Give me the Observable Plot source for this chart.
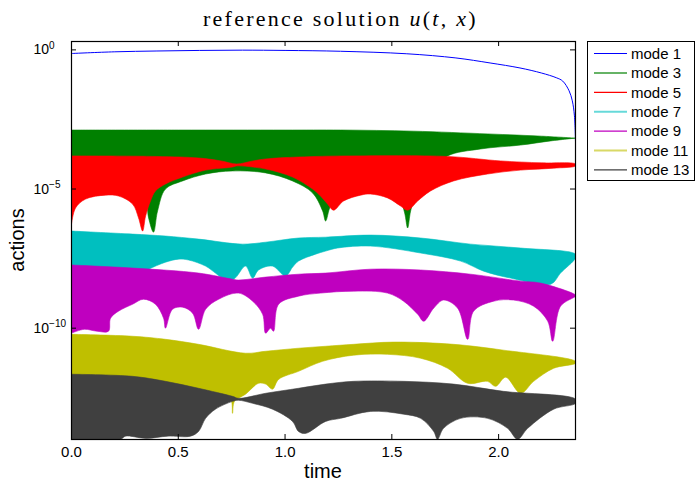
<!DOCTYPE html>
<html><head><meta charset="utf-8">
<script src="https://cdn.jsdelivr.net/npm/d3@7"></script>
<script src="https://cdn.jsdelivr.net/npm/@observablehq/plot@0.6"></script>
<style>
body{margin:0;background:#fff;}
#wrap{position:relative;width:697px;height:484px;font-family:"Liberation Sans",Arial,sans-serif;color:#000;}
#title{position:absolute;left:203px;top:6.5px;font-family:"Liberation Serif",serif;font-size:22px;line-height:24px;letter-spacing:2.25px;white-space:nowrap;}
#xlab{position:absolute;left:0;width:646px;top:461px;text-align:center;font-size:20px;line-height:20px;}
#ylab{position:absolute;left:16.6px;top:240px;transform:translate(-50%,-50%) rotate(-90deg);font-size:20px;line-height:20px;white-space:nowrap;}
#legend{position:absolute;left:587px;top:41px;width:108px;height:140px;border:1px solid #000;box-sizing:border-box;background:#fff;}
</style></head><body>
<div id="wrap">
<div id="chart"></div>
<div id="title">reference solution <i>u</i>(<i>t</i>, <i>x</i>)</div>
<div id="xlab">time</div>
<div id="ylab">actions</div>
<div id="legend"></div>
</div>
<script>
// ---------------- data (actions given as log10) -------------
const modeNames = ["mode 1","mode 3","mode 5","mode 7","mode 9","mode 11","mode 13"];
const modeColors = ["#0000ff","#008000","#ff0000","#00bfbf","#bf00bf","#bfbf00","#404040"];
const xTicks = [0, 0.5, 1, 1.5, 2];
const yTicks = [1, 1e-5, 1e-10];

// mode 1: a single smooth curve
const mode1Time  = [0, 0.2, 0.4, 0.6, 0.8, 1.0, 1.26, 1.57, 1.8, 1.96, 2.1, 2.2, 2.27, 2.3, 2.33, 2.345, 2.355, 2.36];
const mode1Log10 = [-0.13, -0.07, -0.04, -0.02, -0.01, -0.02, -0.05, -0.14, -0.29, -0.47, -0.65, -0.83, -1.0, -1.12, -1.47, -1.83, -2.37, -3.3];

// higher modes oscillate fast: upper and lower envelopes of the band
const mode3UpperTime  = [0, 0.5, 1.0, 1.26, 1.6, 1.95, 2.2, 2.36];
const mode3UpperLog10 = [-2.88, -2.88, -2.88, -2.88, -2.92, -3.02, -3.10, -3.17];
const mode3LowerTime  = [0, 0.276, 0.347, 0.361, 0.384, 0.403, 0.44, 0.52, 0.628, 0.754, 0.909, 1.035, 1.129, 1.176, 1.19, 1.213, 1.26, 1.382, 1.504, 1.541, 1.56, 1.574, 1.588, 1.611, 1.681, 1.761, 1.916, 2.103, 2.244, 2.36];
const mode3LowerLog10 = [-4.71, -4.82, -5.43, -6.04, -6.55, -5.79, -5.0, -4.71, -4.46, -4.35, -4.42, -4.71, -5.14, -5.79, -6.15, -5.61, -5.18, -4.93, -5.14, -5.43, -5.86, -6.40, -5.79, -5.25, -4.35, -3.81, -3.56, -3.42, -3.27, -3.17];

const mode5UpperTime  = [0, 0.4, 0.595, 0.70, 0.773, 0.85, 0.909, 1.063, 1.3, 1.761, 2.009, 2.2, 2.36];
const mode5UpperLog10 = [-3.81, -3.83, -3.885, -3.99, -4.10, -3.99, -3.92, -3.85, -3.81, -3.83, -3.99, -4.06, -4.10];
const mode5LowerTime  = [0, 0.019, 0.066, 0.159, 0.22, 0.286, 0.314, 0.333, 0.347, 0.37, 0.393, 0.44, 0.52, 0.628, 0.754, 0.773, 0.909, 1.035, 1.129, 1.166, 1.199, 1.227, 1.274, 1.354, 1.40, 1.48, 1.541, 1.574, 1.621, 1.681, 1.789, 1.948, 2.103, 2.258, 2.36];
const mode5LowerLog10 = [-6.26, -5.68, -5.36, -5.22, -5.25, -5.54, -6.04, -6.51, -5.97, -5.43, -5.07, -4.82, -4.57, -4.32, -4.21, -4.17, -4.28, -4.57, -5.0, -5.25, -5.54, -5.76, -5.43, -5.22, -5.18, -5.32, -5.61, -5.76, -5.43, -5.07, -4.71, -4.46, -4.32, -4.25, -4.17];

const mode7UpperTime  = [0, 0.286, 0.44, 0.595, 0.801, 0.909, 1.063, 1.19, 1.4, 1.635, 1.869, 2.103, 2.36];
const mode7UpperLog10 = [-6.51, -6.62, -6.69, -6.80, -6.98, -6.91, -6.76, -6.73, -6.655, -6.76, -6.98, -7.12, -7.34];
const mode7LowerTime  = [0, 0.323, 0.361, 0.44, 0.501, 0.548, 0.628, 0.674, 0.707, 0.759, 0.815, 0.848, 0.876, 0.941, 1.002, 1.035, 1.063, 1.143, 1.19, 1.246, 1.4, 1.635, 1.822, 1.93, 2.056, 2.244, 2.29, 2.36];
const mode7LowerLog10 = [-7.95, -8.02, -7.88, -7.63, -7.52, -7.55, -7.77, -8.02, -8.20, -8.24, -7.77, -8.20, -7.91, -7.77, -8.13, -7.81, -7.59, -7.34, -7.23, -7.12, -7.05, -7.30, -7.59, -7.95, -8.20, -8.42, -8.02, -7.48];

const mode9UpperTime  = [0, 0.286, 0.595, 0.754, 0.782, 0.909, 1.063, 1.19, 1.4, 1.635, 1.869, 2.103, 2.197, 2.36];
const mode9UpperLog10 = [-7.73, -7.84, -8.02, -8.24, -8.27, -8.165, -8.06, -8.02, -7.88, -7.91, -8.06, -8.31, -8.38, -8.81];
const mode9LowerTime  = [0, 0.06, 0.12, 0.173, 0.183, 0.22, 0.286, 0.337, 0.393, 0.431, 0.44, 0.473, 0.52, 0.567, 0.595, 0.628, 0.689, 0.782, 0.848, 0.895, 0.909, 0.932, 0.946, 0.97, 1.063, 1.166, 1.321, 1.48, 1.555, 1.621, 1.649, 1.696, 1.742, 1.808, 1.855, 1.883, 1.977, 2.07, 2.164, 2.23, 2.253, 2.29, 2.36];
const mode9LowerLog10 = [-10.18, -10.04, -10.11, -10.11, -9.64, -9.39, -9.14, -8.96, -9.14, -9.64, -10.0, -9.32, -9.245, -9.46, -10.04, -9.32, -8.96, -8.74, -9.03, -9.50, -10.18, -10.0, -10.11, -9.14, -8.85, -8.74, -8.67, -8.74, -9.03, -9.50, -9.75, -9.28, -8.99, -9.28, -10.40, -9.39, -9.03, -8.99, -9.21, -9.75, -10.47, -9.21, -8.85];

const mode11UpperTime  = [0, 0.286, 0.44, 0.595, 0.815, 0.909, 1.063, 1.19, 1.321, 1.508, 1.789, 2.023, 2.36];
const mode11UpperLog10 = [-10.22, -10.29, -10.40, -10.58, -10.90, -10.83, -10.72, -10.65, -10.58, -10.50, -10.58, -10.79, -11.19];
const mode11LowerTime  = [0, 0.4, 0.595, 0.674, 0.745, 0.754, 0.763, 0.815, 0.876, 0.909, 0.941, 0.97, 1.063, 1.176, 1.321, 1.48, 1.635, 1.761, 1.855, 1.948, 1.986, 2.033, 2.103, 2.164, 2.258, 2.36];
const mode11LowerLog10 = [-11.84, -12.01, -12.19, -12.34, -12.55, -13.06, -12.63, -12.37, -11.98, -12.01, -12.19, -11.84, -11.55, -11.19, -10.97, -10.94, -11.08, -11.44, -11.98, -11.91, -12.09, -11.76, -12.34, -11.91, -11.44, -11.26];

const mode13UpperTime  = [0, 0.286, 0.44, 0.595, 0.754, 0.782, 0.909, 1.063, 1.19, 1.321, 1.555, 1.789, 2.023, 2.36];
const mode13UpperLog10 = [-11.655, -11.73, -11.91, -12.16, -12.45, -12.52, -12.34, -12.16, -12.01, -11.91, -11.91, -12.01, -12.27, -12.55];
const mode13LowerTime  = [0, 0.23, 0.253, 0.35, 0.45, 0.557, 0.595, 0.628, 0.674, 0.754, 0.782, 0.848, 0.941, 1.035, 1.063, 1.096, 1.19, 1.26, 1.4, 1.555, 1.635, 1.696, 1.714, 1.742, 1.822, 1.948, 2.042, 2.089, 2.136, 2.258, 2.36];
const mode13LowerLog10 = [-14.07, -13.99, -13.88, -13.96, -13.88, -13.88, -13.71, -13.24, -12.91, -12.63, -12.59, -12.70, -12.91, -13.35, -13.71, -13.78, -13.35, -13.24, -12.99, -13.09, -13.24, -13.71, -13.99, -13.60, -13.24, -13.24, -13.60, -13.99, -13.60, -12.91, -12.70];

// ---------------- build tables -------------
const pts = (ts, es) => ts.map((t, i) => ({t, v: Math.pow(10, es[i])}));
const band = (tu, eu, tl, el) => pts(tu, eu).concat(pts(tl, el).reverse());
const bands = [
  band(mode3UpperTime, mode3UpperLog10, mode3LowerTime, mode3LowerLog10),
  band(mode5UpperTime, mode5UpperLog10, mode5LowerTime, mode5LowerLog10),
  band(mode7UpperTime, mode7UpperLog10, mode7LowerTime, mode7LowerLog10),
  band(mode9UpperTime, mode9UpperLog10, mode9LowerTime, mode9LowerLog10),
  band(mode11UpperTime, mode11UpperLog10, mode11LowerTime, mode11LowerLog10),
  band(mode13UpperTime, mode13UpperLog10, mode13LowerTime, mode13LowerLog10)
];
const mode1 = pts(mode1Time, mode1Log10);

const W = 697, H = 484, ML = 71, MR = 122, MT = 41, MB = 45;
const fw = W - ML - MR, fh = H - MT - MB, tk = 5;

const plot = Plot.plot({
  width: W, height: H,
  marginLeft: ML, marginRight: MR, marginTop: MT, marginBottom: MB,
  style: {fontFamily: "Liberation Sans, Arial, sans-serif", fontSize: "15px", color: "#000", background: "#fff"},
  x: {domain: [0, 2.36]},
  y: {type: "log", domain: [1e-14, 2]},
  marks: [
    Plot.line(mode1, {x: "t", y: "v", stroke: modeColors[0], strokeWidth: 1, curve: "catmull-rom", clip: true}),
    ...bands.map((b, i) => Plot.line(b, {x: "t", y: "v", fill: modeColors[i + 1], stroke: modeColors[i + 1], strokeWidth: 0.6, curve: "catmull-rom", clip: true})),
    Plot.ruleX(xTicks, {x: d => d, insetTop: fh - tk, stroke: "#000"}),
    Plot.ruleX(xTicks, {x: d => d, insetBottom: fh - tk, stroke: "#000"}),
    Plot.ruleY(yTicks, {y: d => d, insetRight: fw - tk, stroke: "#000"}),
    Plot.ruleY(yTicks, {y: d => d, insetLeft: fw - tk, stroke: "#000"}),
    Plot.frame({stroke: "#000", strokeWidth: 1.2}),
    Plot.axisX({ticks: xTicks, tickSize: 0, tickPadding: 7, fontSize: 15, label: null}),
    Plot.axisY({ticks: yTicks, tickSize: 0, tickPadding: 0, textAnchor: "start", dx: -38, fontSize: 14, label: null,
      tickFormat: d => String(Math.round(Math.log10(d)))})
  ]
});
document.getElementById("chart").appendChild(plot);

// superscript exponents on the y tick labels
d3.select(plot).selectAll('g[aria-label="y-axis tick label"] text').each(function() {
  const e = this.textContent;
  const s = d3.select(this);
  s.text(null);
  s.append("tspan").text("10");
  s.append("tspan").attr("dy", "-0.55em").attr("font-size", "10px").text(e.replace("-", "\u2212"));
});

// legend
const lg = d3.select("#legend").append("svg").attr("width", 106).attr("height", 138);
modeNames.forEach((name, i) => {
  const y = 11.5 + i * 19.4;
  const thick = (i === 1 || i === 3 || i === 5);
  lg.append("line").attr("x1", 6).attr("x2", 39).attr("y1", y).attr("y2", y)
    .attr("stroke", modeColors[i]).attr("stroke-width", thick ? 2 : 1.2).attr("stroke-opacity", thick ? 0.6 : 1);
  lg.append("text").attr("x", 43).attr("y", y).attr("dy", "0.35em")
    .attr("font-family", "Liberation Sans, Arial, sans-serif").attr("font-size", 15).text(name);
});
</script>
</body></html>
